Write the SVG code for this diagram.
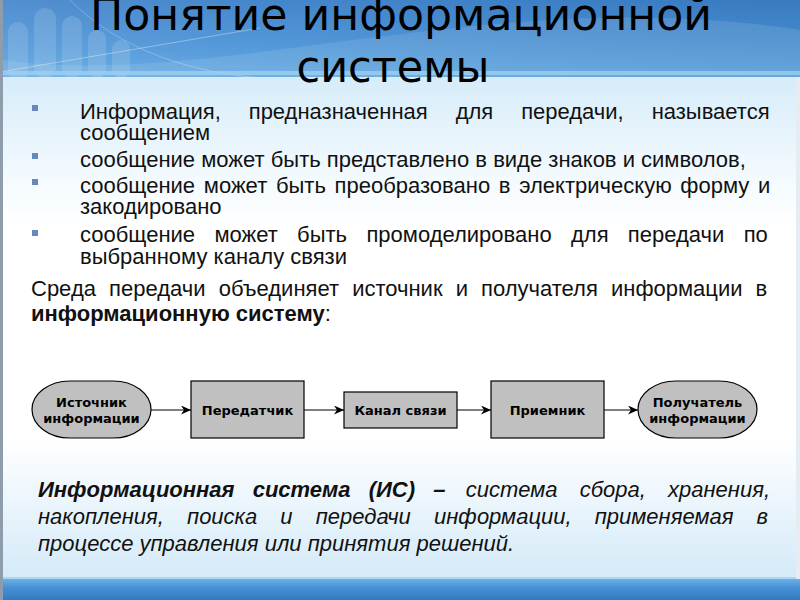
<svg xmlns="http://www.w3.org/2000/svg" width="800" height="600" viewBox="0 0 800 600">
<defs>
<linearGradient id="hdr" x1="0" y1="0" x2="0" y2="1">
<stop offset="0" stop-color="#3a7fc8"/>
<stop offset="0.6" stop-color="#4a93d7"/>
<stop offset="1" stop-color="#5aa4e0"/>
</linearGradient>
<linearGradient id="hdrH" x1="0" y1="0" x2="1" y2="0">
<stop offset="0" stop-color="#ffffff" stop-opacity="0.12"/>
<stop offset="0.35" stop-color="#ffffff" stop-opacity="0.05"/>
<stop offset="1" stop-color="#000000" stop-opacity="0.04"/>
</linearGradient>
<linearGradient id="body" x1="0" y1="0" x2="0" y2="1">
<stop offset="0" stop-color="#d6ecf9"/>
<stop offset="0.2" stop-color="#f3fafe"/>
<stop offset="0.3" stop-color="#ffffff"/>
<stop offset="0.72" stop-color="#ffffff"/>
<stop offset="1" stop-color="#d3eaf8"/>
</linearGradient>
<linearGradient id="foot" x1="0" y1="0" x2="0" y2="1">
<stop offset="0" stop-color="#6cb0e6"/>
<stop offset="0.4" stop-color="#4891d6"/>
<stop offset="1" stop-color="#3479c2"/>
</linearGradient>
<marker id="arr" markerWidth="11" markerHeight="10" refX="10" refY="4.5" orient="auto" markerUnits="userSpaceOnUse">
<path d="M0,0 L10,4.5 L0,9 L3,4.5 z" fill="#000"/>
</marker>
<style>
.title{font-family:"DejaVu Sans",sans-serif;font-size:44px;fill:#000;}
.txt{font-family:"Liberation Sans",Arial,sans-serif;font-size:22px;fill:#111;}
.bul{fill:#6688bb;}
.node{fill:#c0c0c0;stroke:#000;stroke-width:1.2;}
.lbl{font-family:"DejaVu Sans",sans-serif;font-size:13px;font-weight:bold;fill:#000;text-anchor:middle;}
.conn{stroke:#000;stroke-width:1.2;fill:none;}
.def{font-family:"Liberation Sans",Arial,sans-serif;font-size:22px;font-style:italic;fill:#111;}
</style>
</defs>

<!-- background -->
<rect x="0" y="0" width="800" height="78" fill="url(#hdr)"/>
<rect x="0" y="0" width="800" height="78" fill="url(#hdrH)"/>
<g fill="#ffffff" opacity="0.13">
<rect x="8" y="22" width="20" height="60" rx="10"/>
<rect x="34" y="8" width="22" height="70" rx="11"/>
<rect x="62" y="16" width="20" height="62" rx="10"/>
<rect x="88" y="30" width="18" height="48" rx="9"/>
<rect x="112" y="40" width="18" height="38" rx="9"/>
</g>
<path d="M0,60 C150,80 300,40 520,22 C640,12 740,20 800,30 L800,78 L0,78 z" fill="#ffffff" opacity="0.10"/>
<path d="M0,72 L260,28" stroke="#ffffff" stroke-opacity="0.35" stroke-width="1" fill="none"/>
<path d="M70,0 C110,40 170,70 260,78" stroke="#ffffff" stroke-opacity="0.25" stroke-width="1" fill="none"/>
<rect x="0" y="71" width="800" height="4" fill="#9fd0f3" opacity="0.75"/>
<rect x="0" y="77" width="800" height="502" fill="url(#body)"/>
<rect x="0" y="577" width="800" height="2" fill="#a9d6f4"/>
<rect x="0" y="579" width="800" height="21" fill="url(#foot)"/>
<rect x="0" y="0" width="3" height="600" fill="#8f9cab"/>
<rect x="796" y="77" width="4" height="502" fill="#e6edf2"/>

<!-- title -->
<text class="title" x="401" y="30" text-anchor="middle" textLength="622" lengthAdjust="spacingAndGlyphs">Понятие информационной</text>
<text class="title" x="393" y="82" text-anchor="middle" textLength="193" lengthAdjust="spacingAndGlyphs">системы</text>

<!-- bullets -->
<rect class="bul" x="32" y="105" width="6" height="6"/>
<rect class="bul" x="32" y="153" width="6" height="6"/>
<rect class="bul" x="32" y="179" width="6" height="6"/>
<rect class="bul" x="32" y="230" width="6" height="6"/>

<text class="txt" x="80" y="119" style="word-spacing:21.8px">Информация, предназначенная для передачи, называется</text>
<text class="txt" x="80" y="140">сообщением</text>
<text class="txt" x="80" y="167">сообщение может быть представлено в виде знаков и символов,</text>
<text class="txt" x="80" y="193" style="word-spacing:2.6px">сообщение может быть преобразовано в электрическую форму и</text>
<text class="txt" x="80" y="214">закодировано</text>
<text class="txt" x="80" y="242" style="word-spacing:13.2px">сообщение может быть промоделировано для передачи по</text>
<text class="txt" x="80" y="264">выбранному каналу связи</text>
<text class="txt" x="31" y="296" style="word-spacing:7px">Среда передачи объединяет источник и получателя информации в</text>
<text class="txt" x="31" y="321"><tspan font-weight="bold">информационную систему</tspan>:</text>

<!-- connectors -->
<g id="connectors">
<line class="conn" x1="151" y1="410" x2="191" y2="410" marker-end="url(#arr)"/>
<line class="conn" x1="304" y1="410" x2="344" y2="410" marker-end="url(#arr)"/>
<line class="conn" x1="457" y1="410" x2="491" y2="410" marker-end="url(#arr)"/>
<line class="conn" x1="604" y1="410" x2="638" y2="410" marker-end="url(#arr)"/>
</g>

<g id="source">
<rect class="node" x="32" y="381" width="119" height="57" rx="38" ry="28.5"/>
<text class="lbl" x="91.5" y="407">Источник</text>
<text class="lbl" x="91.5" y="423">информации</text>
</g>
<g id="transmitter">
<rect class="node" x="191" y="381" width="113" height="57"/>
<text class="lbl" x="247.5" y="415">Передатчик</text>
</g>
<g id="channel">
<rect class="node" x="344" y="392" width="113" height="36"/>
<text class="lbl" x="400.5" y="415">Канал связи</text>
</g>
<g id="receiver">
<rect class="node" x="491" y="381" width="113" height="57"/>
<text class="lbl" x="547.5" y="415">Приемник</text>
</g>
<g id="destination">
<rect class="node" x="638" y="381" width="119" height="57" rx="38" ry="28.5"/>
<text class="lbl" x="697.5" y="407">Получатель</text>
<text class="lbl" x="697.5" y="423">информации</text>
</g>

<!-- definition -->
<text class="def" x="38" y="497" font-weight="bold" style="word-spacing:12px">Информационная система (ИС) –</text>
<text class="def" x="770" y="497" text-anchor="end" style="word-spacing:16px">система сбора, хранения,</text>
<text class="def" x="38" y="524" style="word-spacing:17px">накопления, поиска и передачи информации, применяемая в</text>
<text class="def" x="38" y="551">процессе управления или принятия решений.</text>
</svg>
